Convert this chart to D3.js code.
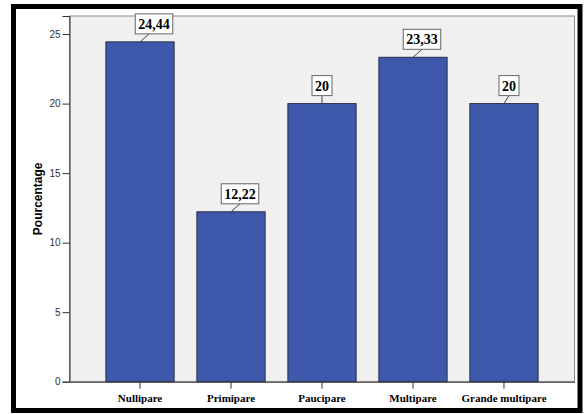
<!DOCTYPE html>
<html>
<head>
<meta charset="utf-8">
<script src="https://cdn.jsdelivr.net/npm/d3@7"></script>
<style>
  html, body { margin: 0; padding: 0; background: #ffffff; }
  svg { display: block; }
</style>
</head>
<body>
<script>
// Parité des patientes (%)
const categories = ["Nullipare", "Primipare", "Paucipare", "Multipare", "Grande multipare"];
const values = [24.44, 12.22, 20, 23.33, 20];
const valueLabels = ["24,44", "12,22", "20", "23,33", "20"];
const yTicks = [0, 5, 10, 15, 20, 25];

const W = 586, H = 414;
const plot = { left: 69.5, right: 574.5, top: 16, bottom: 381.7 };

// horizontal nudge of each value callout relative to its bar centre
const calloutShift = [14, 9, 0, 9, 5];

const svg = d3.select("body").append("svg")
  .attr("width", W).attr("height", H);

// outer frame
svg.append("rect")
  .attr("x", 13.5).attr("y", 6.5)
  .attr("width", 566.5).attr("height", 404)
  .attr("fill", "#ffffff")
  .attr("stroke", "#000000").attr("stroke-width", 5);

const x = d3.scaleBand()
  .domain(categories)
  .range([plot.left, plot.right])
  .paddingInner(0.25)
  .paddingOuter(0.4);

const y = d3.scaleLinear()
  .domain([0, 26.3])
  .range([plot.bottom, plot.top]);

// plot background
svg.append("rect")
  .attr("x", plot.left).attr("y", plot.top)
  .attr("width", plot.right - plot.left)
  .attr("height", plot.bottom - plot.top)
  .attr("fill", "#f0f0f0")
  .attr("stroke", "#8a8a8a").attr("stroke-width", 1);

// bars
svg.append("g").selectAll("rect")
  .data(values)
  .join("rect")
  .attr("x", (d, i) => x(categories[i]))
  .attr("y", d => y(d))
  .attr("width", x.bandwidth())
  .attr("height", d => y(0) - y(d))
  .attr("fill", "#3e58ac")
  .attr("stroke", "#2a2f45").attr("stroke-width", 1);

// y axis
const yAxis = svg.append("g")
  .attr("transform", `translate(${plot.left},0)`)
  .call(d3.axisLeft(y).tickValues(yTicks).tickSize(7).tickPadding(2).tickFormat(d3.format("d")));
yAxis.select(".domain").attr("stroke", "#333");
yAxis.selectAll(".tick line").attr("stroke", "#333");
yAxis.selectAll(".tick text")
  .attr("fill", "#333")
  .style("font-family", "'Liberation Sans', Arial, sans-serif")
  .style("font-size", "10px");

// x axis
const xAxis = svg.append("g")
  .attr("transform", `translate(0,${plot.bottom})`)
  .call(d3.axisBottom(x).tickSize(7).tickPadding(6).tickSizeOuter(0));
xAxis.select(".domain").attr("stroke", "#333");
xAxis.selectAll(".tick line").attr("stroke", "#333");
xAxis.selectAll(".tick text")
  .attr("fill", "#000")
  .style("font-family", "'Liberation Serif', 'Times New Roman', serif")
  .style("font-weight", "bold")
  .style("font-size", "11px");

// y axis title
svg.append("text")
  .attr("transform", `translate(41.5,${(plot.top + plot.bottom) / 2}) rotate(-90)`)
  .attr("text-anchor", "middle")
  .style("font-family", "'Liberation Sans', Arial, sans-serif")
  .style("font-weight", "bold")
  .style("font-size", "12px")
  .attr("fill", "#000")
  .text("Pourcentage");

// value callouts
const callouts = svg.append("g");
values.forEach((v, i) => {
  const cx = x(categories[i]) + x.bandwidth() / 2;
  const top = y(v);
  const boxBottom = top - 8;
  const bx = cx + calloutShift[i];
  const t = callouts.append("text")
    .attr("x", bx)
    .attr("y", boxBottom - 5)
    .attr("text-anchor", "middle")
    .style("font-family", "'Liberation Serif', 'Times New Roman', serif")
    .style("font-weight", "bold")
    .style("font-size", "14px")
    .attr("fill", "#000")
    .text(valueLabels[i]);
  const bb = t.node().getBBox();
  const padX = 3;
  const bw = bb.width + padX * 2;
  const bh = 20;
  const lineEndX = Math.max(bx - bw / 2 + 5, Math.min(bx, cx + 9));
  callouts.insert("line", "text")
    .attr("x1", cx).attr("y1", top)
    .attr("x2", i === 2 ? cx : lineEndX).attr("y2", boxBottom)
    .attr("stroke", "#444").attr("stroke-width", 1);
  callouts.insert("rect", "text")
    .attr("x", bx - bw / 2)
    .attr("y", boxBottom - bh)
    .attr("width", bw)
    .attr("height", bh)
    .attr("fill", "#ffffff")
    .attr("stroke", "#666").attr("stroke-width", 1);
});
</script>
</body>
</html>
